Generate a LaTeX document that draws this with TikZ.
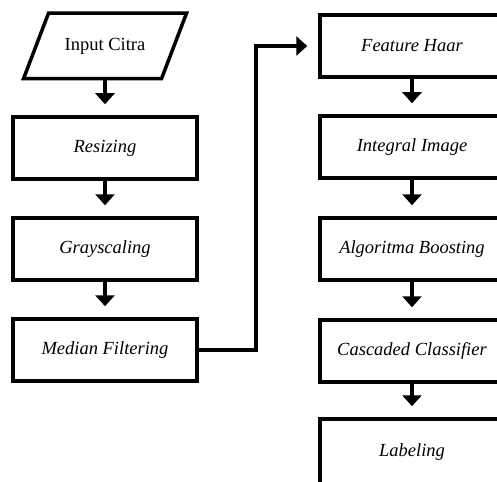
\documentclass[tikz,border=0pt]{standalone}
\usepackage{fontspec}
\setmainfont{Liberation Serif}
\usetikzlibrary{arrows.meta,calc}

\begin{document}
\begin{tikzpicture}[x=1pt, y=-1pt, >={Triangle[width=19pt,length=11pt]},
    procbox/.style={draw, line width=3.5pt, minimum width=184pt, minimum height=62pt,
        inner sep=0pt, font=\fontsize{18.5}{22}\selectfont\itshape},
    iotext/.style={minimum width=138pt, minimum height=65.5pt, inner sep=0pt,
        outer sep=0pt, font=\fontsize{18.5}{22}\selectfont},
    flow/.style={->, line width=3.5pt, shorten >=11pt}]
\useasboundingbox (0,0) rectangle (497,481);
\clip (0,0) rectangle (497,481);

% Preprocessing column
\node [iotext] (input) at (105,46) {Input Citra};
\draw [line width=3.5pt] ($(input.north west)+(12.5,0)$) -- ($(input.north east)+(12.5,0)$)
    -- ($(input.south east)+(-12.5,0)$) -- ($(input.south west)+(-12.5,0)$) -- cycle;
\node [procbox] (resize) at (105,148) {Resizing};
\node [procbox] (gray) at (105,249) {Grayscaling};
\node [procbox] (median) at (105,350) {Median Filtering};

% Detection column
\node [procbox] (haar) at (412,46) {Feature Haar};
\node [procbox] (integral) at (412,147) {Integral Image};
\node [procbox] (boost) at (412,249) {Algoritma Boosting};
\node [procbox] (cascade) at (412,351) {Cascaded Classifier};
\node [procbox, minimum height=66pt] (label) at (412,452) {Labeling};

% Flow arrows
\draw [flow] (input.south) -- (resize.north);
\draw [flow] (resize.south) -- (gray.north);
\draw [flow] (gray.south) -- (median.north);
\draw [flow] (median.east) -- ++(57,0) |- (haar.west);
\draw [flow] (haar.south) -- (integral.north);
\draw [flow] (integral.south) -- (boost.north);
\draw [flow] (boost.south) -- (cascade.north);
\draw [flow] (cascade.south) -- (label.north);
\end{tikzpicture}
\end{document}
